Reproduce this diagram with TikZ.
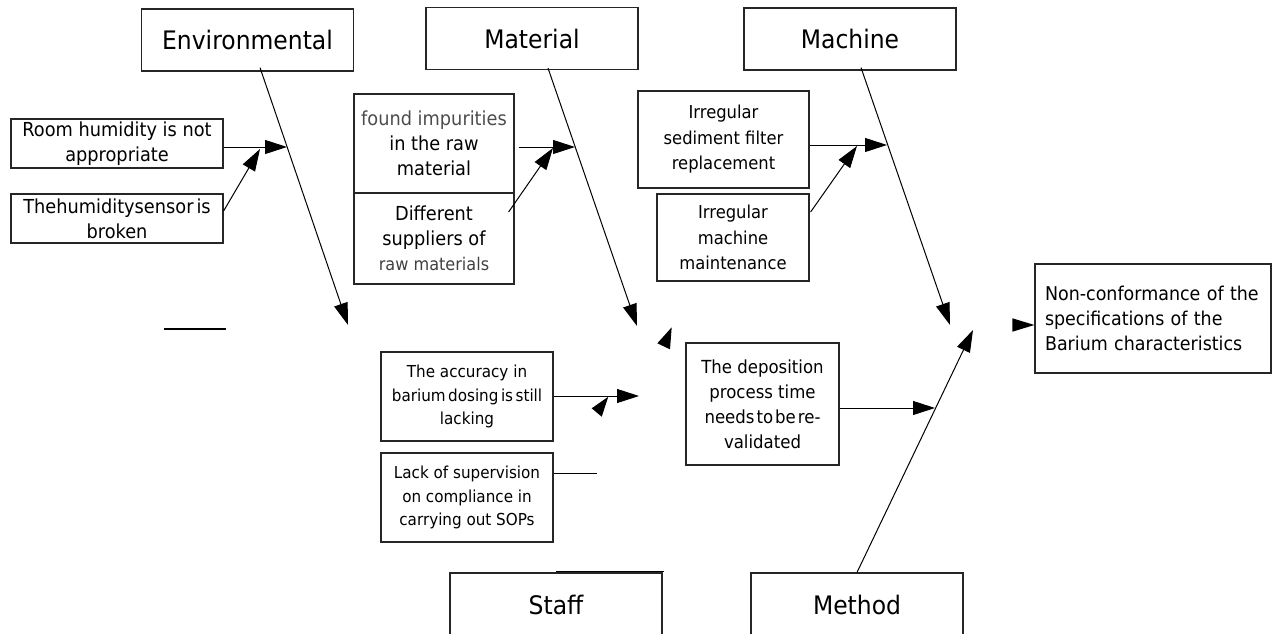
\documentclass[tikz,border=0pt]{standalone}
\usepackage{fontspec}
\setmainfont{DejaVu Sans}[FakeStretch=0.92]
\usetikzlibrary{arrows.meta}
\begin{document}
\begin{tikzpicture}[x=1pt,y=-1pt,
  box/.style={draw=black!85, line width=1.2pt, inner sep=0pt, align=center},
  catbox/.style={box, minimum width=212pt, minimum height=62pt,
    font=\fontsize{25.5}{30}\selectfont},
  causebox/.style={box, font=\fontsize{19.3}{25}\selectfont},
  machbox/.style={box, font=\fontsize{17.8}{25.5}\selectfont},
  staffbox/.style={box, font=\fontsize{16.5}{23.5}\selectfont,
    minimum width=172pt, minimum height=89pt},
  bone/.style={line width=1pt, -{Triangle[length=22pt,width=14pt]}},
  stub/.style={line width=1pt},
  head/.style={fill=black}
]
\useasboundingbox (0,0) rectangle (1272,634);
\clip (0,0) rectangle (1272,634);

% category boxes
\node[catbox] (env)  at (247.5,40)  {Environmental};
\node[catbox] (mat)  at (532,38.5)  {Material};
\node[catbox] (mach) at (850,39)    {Machine};
\node[catbox, minimum height=63pt] (staff) at (556,604.5) {Staff};
\node[catbox, minimum height=63pt] (meth)  at (857,604.5) {Method};

% causes
\node[causebox, minimum width=212pt, minimum height=49pt] (room) at (117,143.5)
  {Room humidity is not\\appropriate};
\node[causebox, minimum width=212pt, minimum height=49pt] (sensor) at (117,218.5)
  {Thehumiditysensor\hspace{3pt}is\\broken};
\node[causebox, minimum width=160pt, minimum height=99pt] (imp) at (434,143.5)
  {{\color{black!70}found impurities}\\in the raw\\material};
\node[causebox, minimum width=160pt, minimum height=91pt] (sup) at (434,238.5)
  {Different\\suppliers of\\{\fontsize{17.5}{25}\selectfont\color{black!75}raw materials}};
\node[machbox, minimum width=171pt, minimum height=97pt] (filt) at (723.5,139.5)
  {Irregular\\sediment filter\\replacement};
\node[machbox, minimum width=152pt, minimum height=87pt] (maint) at (733,237.5)
  {Irregular\\machine\\maintenance};
\node[staffbox] (acc) at (467,396.5)
  {The accuracy in\\barium\hspace{2.5pt}dosing\hspace{2.5pt}is\hspace{2.5pt}still\\lacking};
\node[staffbox] (lack) at (467,497.5)
  {Lack of supervision\\on compliance in\\carrying out SOPs};
\node[box, font=\fontsize{18}{25}\selectfont, minimum width=153pt, minimum height=122pt]
  (dep) at (762.5,404)
  {The deposition\\process time\\needs\hspace{2pt}to\hspace{2pt}be\hspace{2pt}re-\\validated};

% effect
\node[box, align=left, text width=216pt, minimum width=236pt, minimum height=109pt,
  font=\fontsize{19}{25}\selectfont] (res) at (1153,318.5)
  {Non-conformance of the\\specifications of the\\Barium characteristics};

% bone ends and junctions
\coordinate (envtip)  at (348,325);
\coordinate (mattip)  at (637,326);
\coordinate (machtip) at (950,325);
\coordinate (methtip) at (973,330);
\coordinate (envj)    at (287,147);
\coordinate (envj2)   at (260,149);
\coordinate (matj)    at (575,147);
\coordinate (matj2)   at (553,148);
\coordinate (machj)   at (887,145);
\coordinate (machj2)  at (857,146);
\coordinate (accj)    at (639,396);
\coordinate (lackend) at (597,473);
\coordinate (depj)    at (935,408);

% main bones
\draw[bone] ([xshift=12.5pt,yshift=4pt]env.south) -- (envtip);
\draw[bone] ([xshift=16pt,yshift=2pt]mat.south) -- (mattip);
\draw[bone] ([xshift=11pt,yshift=3pt]mach.south) -- (machtip);
\draw[bone] (meth.north) -- (methtip);

% sub-cause arrows
\draw[bone] (room.east |- envj) -- (envj);
\draw[bone] ([yshift=7.5pt]sensor.east) -- (envj2);
\draw[bone] (imp.east |- matj) ++(4,0) -- (matj);
\draw[bone] ([xshift=-6pt,yshift=26.5pt]sup.east) -- (matj2);
\draw[bone] (filt.east |- machj) -- (machj);
\draw[bone] ([xshift=1pt,yshift=25.5pt]maint.east) -- (machj2);
\draw[bone] (acc.east |- accj) -- (accj);
\draw[stub] (lack.east |- lackend) -- (lackend);
\draw[bone] (dep.east |- depj) -- (depj);

% loose arrowheads
\fill[head] (608.3,396.7) -- (591.7,408.3) -- (601.7,416.7) -- cycle;
\fill[head] (671.7,327.3) -- (657.3,343.3) -- (670,349.3) -- cycle;
\fill[head] ([yshift=-6.5pt]res.west) -- ++(-22,-6.7) -- ++(0,13.4) -- cycle;

% stray rules
\draw[line width=2pt] (164,328.5) -- (226,328.5);
\draw[line width=1.6pt] (556,571.5) -- (664,571.5);
\end{tikzpicture}
\end{document}
